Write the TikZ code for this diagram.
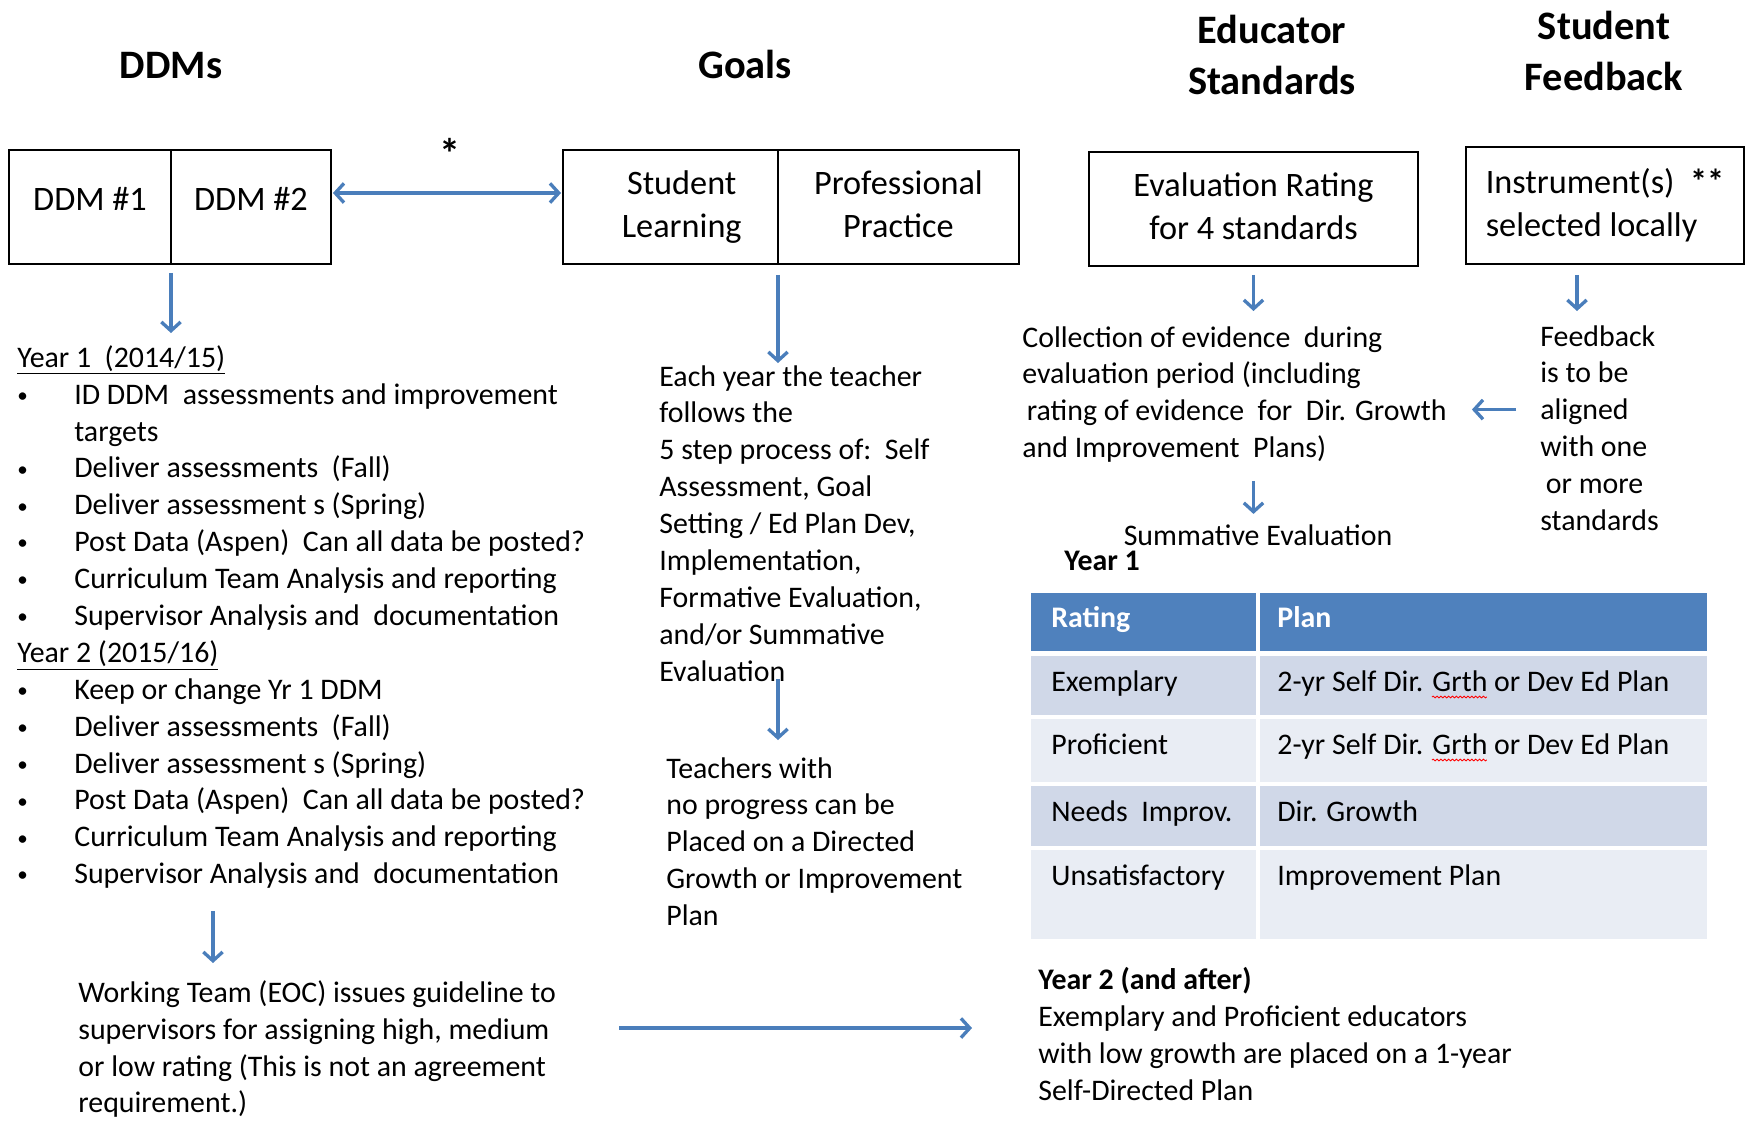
\documentclass[tikz,border=0pt]{standalone}
\usepackage{fontspec}
\setmainfont{Carlito}
\usepackage{tikz}
\usetikzlibrary{arrows.meta, positioning, decorations.pathmorphing}
\usepackage{xcolor}
\definecolor{blufreccia}{HTML}{4A7EBB}
\definecolor{bluintest}{HTML}{4F81BD}
\definecolor{rigascura}{HTML}{D0D8E8}
\definecolor{rigachiara}{HTML}{E9EDF4}
\newcommand{\punto}{\makebox[1.14cm][l]{\raisebox{1pt}{\fontsize{12}{12}\selectfont\textbullet}}}
\tikzset{
    freccia/.style = {draw = blufreccia, line width = 1.9pt, >={Straight Barb[length=5pt, width=11pt]}, ->},
    cella/.style = {draw, line width = 1.2pt, outer sep = 0pt, minimum height = 2.28cm, align = center, font = \fontsize{19.5}{24.5}\selectfont},
    titolo/.style = {align = center, font = \fontsize{23}{28.5}\selectfont\bfseries},
    testo/.style = {anchor = north west, align = left, inner sep = 0pt, font = \fontsize{17}{21}\selectfont},
    grassetto/.style = {testo, font = \fontsize{17}{21}\selectfont\bfseries},
    ondina/.style = {draw = red, line width = 0.5pt, decorate, decoration = {snake, amplitude = 0.5pt, segment length = 2.2pt}}
}

\begin{document}
\begin{tikzpicture}[x = 0.02cm, y = -0.02cm]
    % Parametri
    \pgfmathsetmacro{\tsx}{1031}
    \pgfmathsetmacro{\tmid}{1258}
    \pgfmathsetmacro{\tdx}{1707}
    \useasboundingbox (0,0) rectangle (1752,1120);
    % Titoli
    \node[titolo, anchor = base] (tddm) at (171,78) {DDMs};
    \node[titolo, anchor = base] (tgoals) at (745,78) {Goals};
    \node[titolo] (tedu) at (1272,55) {Educator\\Standards};
    \node[titolo] (tstud) at (1604,51) {Student\\Feedback};
    % Riquadri
    \node[cella, minimum width = 3.24cm, text depth = 0.32cm] (ddm1) at (90,207) {DDM \#1};
    \node[cella, minimum width = 3.2cm, text depth = 0.32cm, right = 0pt of ddm1] (ddm2) {DDM \#2};
    \node[cella, minimum width = 4.3cm] (goalsl) at (670.5,207) {\hspace*{0.45cm}Student\\\hspace*{0.45cm}Learning};
    \node[cella, minimum width = 4.82cm, right = 0pt of goalsl] (goalsr) {Professional\\Practice\vphantom{g}};
    \node[cella, minimum width = 6.58cm] (evalbox) at (1253.5,209) {Evaluation Rating\\for 4 standards\vphantom{g}};
    \node[cella, minimum width = 5.56cm, minimum height = 2.34cm, align = left] (instbox) at (1605,205.5) {Instrument(s)\ \ \textbf{**}\\selected locally};
    \node[font = \fontsize{24}{28}\selectfont\bfseries] (stella) at (450,153) {*};
    % Testi
    \node[testo] (ddmplan) at (17,345) {\underline{Year 1\ \ (2014/15)}\\
        \punto ID DDM\ \ assessments and improvement\\
        \hspace*{1.14cm}targets\\
        \punto Deliver assessments\ \ (Fall)\\
        \punto Deliver assessment s (Spring)\\
        \punto Post Data (Aspen)\ \ Can all data be posted?\\
        \punto Curriculum Team Analysis and reporting\\
        \punto Supervisor Analysis and\ \ documentation\\
        \underline{Year 2 (2015/16)}\\
        \punto Keep or change Yr 1 DDM\\
        \punto Deliver assessments\ \ (Fall)\\
        \punto Deliver assessment s (Spring)\\
        \punto Post Data (Aspen)\ \ Can all data be posted?\\
        \punto Curriculum Team Analysis and reporting\\
        \punto Supervisor Analysis and\ \ documentation};
    \node[testo] (goaltext) at (659,365) {Each year the teacher\\
        follows the\\
        5 step process of:\ \ Self\\
        Assessment, Goal\\
        Setting / Ed Plan Dev,\\
        Implementation,\\
        Formative Evaluation,\\
        and/or Summative\\
        Evaluation};
    \node[testo] (teachers) at (666,757) {Teachers with\\
        no progress can be\\
        Placed on a Directed\\
        Growth or Improvement\\
        Plan};
    \node[testo] (collect) at (1022,326) {Collection of evidence\ \ during\\
        evaluation period (including\\
        \hspace*{0.09cm}rating of evidence\ \ for\ \ Dir. Growth\\
        and Improvement\ \ Plans)};
    \node[testo] (feedback) at (1540,325) {Feedback\\
        is to be\\
        aligned\\
        with one\\
        \hspace*{0.11cm}or more\\
        standards};
    \node[testo, anchor = base] (summative) at (1258,545) {Summative Evaluation};
    \node[grassetto, anchor = base west] (year1) at (1064,570) {Year 1};
    \node[testo] (worktext) at (78,980) {Working Team (EOC) issues guideline to\\
        supervisors for assigning high, medium\\
        or low rating (This is not an agreement\\
        requirement.)};
    \node[testo] (year2) at (1038,967) {\textbf{Year 2 (and after)}\\
        Exemplary and Proficient educators\\
        with low growth are placed on a 1-year\\
        Self-Directed Plan};
    % Tabella
    \fill[bluintest] (\tsx,593) rectangle (\tmid-2,651);
    \fill[bluintest] (\tmid+2,593) rectangle (\tdx,651);
    \node[grassetto, anchor = base west, text = white] (trating) at (\tsx+20,627) {Rating};
    \node[grassetto, anchor = base west, text = white] (tplan) at (\tmid+19,627) {Plan};
    \foreach \ya/\yb/\tinta/\voto/\piano [count = \k] in {
        656/715/rigascura/Exemplary/2-yr Self Dir. Grth or Dev Ed Plan,
        719/782/rigachiara/Proficient/2-yr Self Dir. Grth or Dev Ed Plan,
        786/846/rigascura/Needs\ \ Improv./Dir. Growth,
        850/939/rigachiara/Unsatisfactory/Improvement Plan}{
        \fill[\tinta] (\tsx,\ya) rectangle (\tmid-2,\yb);
        \fill[\tinta] (\tmid+2,\ya) rectangle (\tdx,\yb);
        \node[testo, anchor = base west] (voto\k) at (\tsx+20,\ya+35) {\voto};
        \node[testo, anchor = base west] (piano\k) at (\tmid+19,\ya+35) {\piano};
    }
    \foreach \k in {1,2}{
        \draw[ondina] ([xshift = 3.1cm, yshift = -0.12cm]piano\k.base west) -- ++(1.1cm,0);
    }
    % Frecce
    \draw[freccia, <->, shorten <= 0.04cm, shorten >= 0.04cm] ([yshift = 0.28cm]ddm2.east) -- ([yshift = 0.28cm]goalsl.west);
    \draw[freccia, shorten <= 0.18cm, shorten >= 0.24cm] (ddm1.south east) -- (ddm1.south east |- ddmplan.north);
    \draw[freccia, shorten <= 0.22cm, shorten >= 0.04cm] (goalsl.south east) -- (goalsl.south east |- goaltext.north);
    \draw[freccia, shorten <= 0.18cm, shorten >= 0.3cm] (evalbox.south) -- (evalbox.south |- collect.north);
    \coordinate (instpiede) at ([xshift = -0.56cm]instbox.south);
    \draw[freccia, shorten <= 0.22cm, shorten >= 0.28cm] (instpiede) -- (instpiede |- feedback.north);
    \coordinate (fbfreccia) at ([yshift = 0.37cm]feedback.west);
    \draw[freccia, shorten <= 0.48cm, shorten >= 0.5cm] (fbfreccia) -- (fbfreccia -| collect.east);
    \draw[freccia, shorten <= 0.36cm, shorten >= 0.2cm] (evalbox.south |- collect.south) -- (evalbox.south |- summative.north);
    \draw[freccia, shorten <= -0.06cm, shorten >= 0.34cm] (goalsl.south east |- goaltext.south) -- (goalsl.south east |- teachers.north);
    \coordinate (perno) at ([xshift = 0.84cm]ddm1.south east);
    \draw[freccia, shorten <= 0.44cm, shorten >= 0.34cm] (perno |- ddmplan.south) -- (perno |- worktext.north);
    \coordinate (lungo) at ([yshift = 0.42cm]worktext.east);
    \draw[freccia, shorten <= 1.26cm, shorten >= 1.32cm] (lungo) -- (lungo -| year2.west);
\end{tikzpicture}
\end{document}
